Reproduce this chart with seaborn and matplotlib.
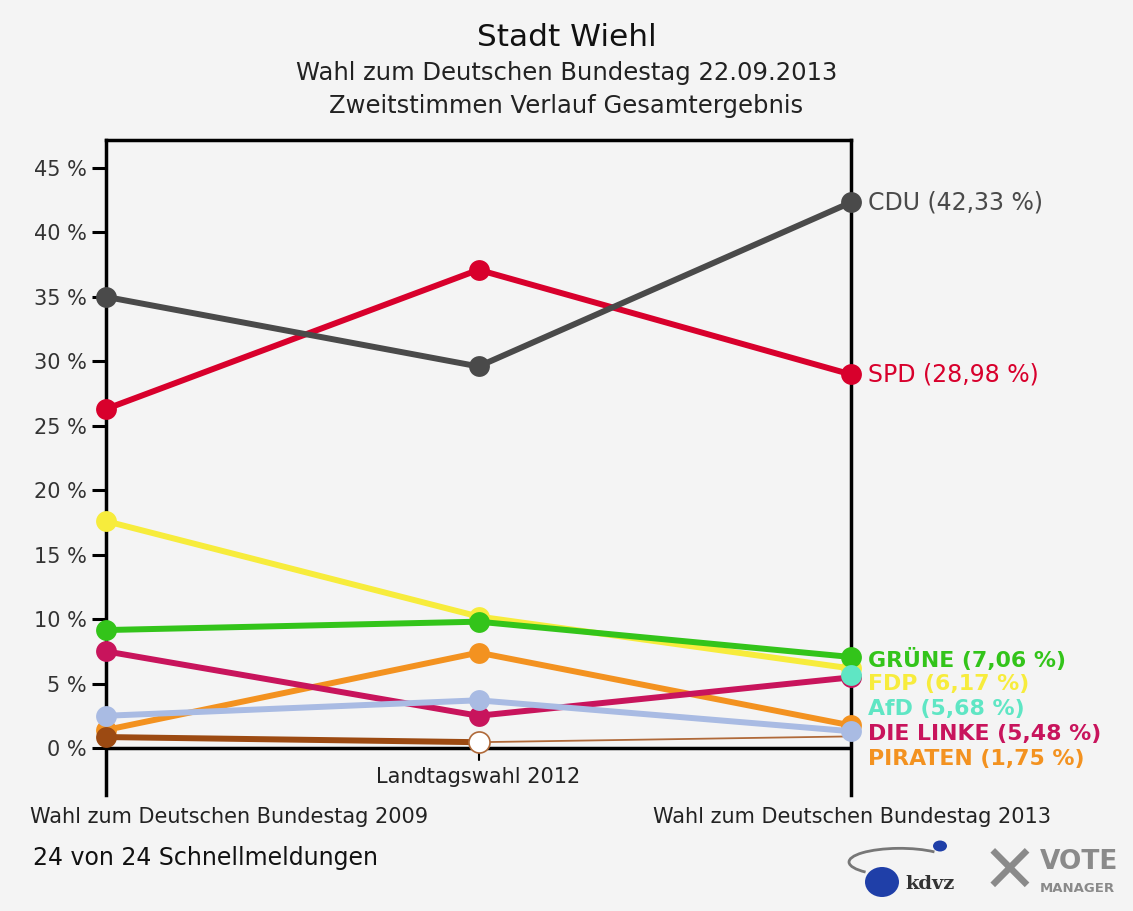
import numpy as np
import pandas as pd
import matplotlib.pyplot as plt
import seaborn as sns
from matplotlib.patches import Ellipse, Arc

# Zweitstimmen Stadt Wiehl (in %)
elections = ['Wahl zum Deutschen Bundestag 2009', 'Landtagswahl 2012', 'Wahl zum Deutschen Bundestag 2013']
parties = ['PIRATEN', 'NPD', 'DIE LINKE', 'Sonstige', 'FDP', 'GRÜNE', 'AfD', 'SPD', 'CDU']
cdu = [35.0, 29.6, 42.33]
spd = [26.3, 37.1, 28.98]
fdp = [17.6, 10.2, 6.17]
gruene = [9.15, 9.8, 7.06]
linke = [7.5, 2.5, 5.48]
piraten = [1.4, 7.4, 1.75]
afd = [np.nan, np.nan, 5.68]
sonstige = [2.5, 3.7, 1.3]
npd = [0.85, 0.45, np.nan]
other12 = [np.nan, 0.45, 0.9]

colors = {'CDU': '#4a4a4a', 'SPD': '#d8002c', 'FDP': '#f7ec3c', 'GRÜNE': '#33c41a',
          'DIE LINKE': '#c8145c', 'PIRATEN': '#f39220', 'AfD': '#5fe6c4',
          'Sonstige': '#a9bbe3', 'NPD': '#9c4a12'}
label_rows = [('CDU', 42.33, None), ('SPD', 28.98, None), ('GRÜNE', 7.06, 0),
              ('FDP', 6.17, 1), ('AfD', 5.68, 2), ('DIE LINKE', 5.48, 3), ('PIRATEN', 1.75, 4)]

values = {'CDU': cdu, 'SPD': spd, 'FDP': fdp, 'GRÜNE': gruene, 'DIE LINKE': linke,
          'PIRATEN': piraten, 'AfD': afd, 'Sonstige': sonstige, 'NPD': npd}
rows = []
for p in parties:
    for i, v in enumerate(values[p]):
        rows.append({'Partei': p, 'x': i, 'Prozent': v})
df = pd.DataFrame(rows).dropna()

sns.set_style('white')
plt.rcParams['font.family'] = ['DejaVu Sans']
bg = '#f4f4f4'
txt = '#222222'
fig = plt.figure(figsize=(11.33, 9.11), dpi=100, facecolor=bg)
ax = fig.add_axes([106 / 1133, 1 - 795 / 911, (851 - 106) / 1133, (795 - 140) / 911])
ax.set_facecolor(bg)

for z, p in enumerate(parties):
    sub = df[df['Partei'] == p]
    sns.lineplot(data=sub, x='x', y='Prozent', color=colors[p], linewidth=4.3,
                 marker='o', markersize=15, markeredgewidth=0, ax=ax, zorder=4 + z,
                 clip_on=False)

# thin line for the 2012/2013 small party
d2 = pd.DataFrame({'x': [1, 2], 'Prozent': other12[1:]})
sns.lineplot(data=d2, x='x', y='Prozent', color='#b06a3a', linewidth=1.3, ax=ax, zorder=2)
sns.scatterplot(x=[1], y=[other12[1]], s=230, color='white', edgecolor='#b06a3a',
                linewidth=1.2, ax=ax, zorder=20, clip_on=False)

ax.set_xlim(0, 2)
ax.set_ylim(-(795 - 748) / 12.89, (748 - 140) / 12.89)
ax.set_yticks(range(0, 50, 5))
ax.set_yticklabels([f'{t} %' for t in range(0, 50, 5)], fontsize=15, color='#333333')
ax.tick_params(axis='y', length=10, width=2.2, color='black', pad=4, left=True)
ax.set_xticks([])
ax.set_xlabel('')
ax.set_ylabel('')
for s in ['left', 'right', 'top']:
    ax.spines[s].set_color('black')
    ax.spines[s].set_linewidth(2.5)
ax.spines['bottom'].set_visible(False)
ax.axhline(0, color='black', lw=2.5, zorder=1)
ax.plot([1, 1], [0, -0.9], color='black', lw=1.5, clip_on=False, zorder=1)

# x labels
fig.text(30 / 1133, 1 - 817 / 911, elections[0], fontsize=15, color=txt, va='center')
fig.text(478 / 1133, 1 - 777 / 911, elections[1], fontsize=15, color=txt, va='center', ha='center')
fig.text(852 / 1133, 1 - 817 / 911, elections[2], fontsize=15, color=txt, va='center', ha='center')

# right side labels
for name, val, slot in label_rows:
    ypos = val if slot is None else 6.9 - slot * 1.93
    weight = 'normal' if slot is None else 'bold'
    ax.text(2.045, ypos, f'{name} ({val:.2f} %)'.replace('.', ','), color=colors[name],
            fontsize=17 if slot is None else 15.8, fontweight=weight,
            va='center', ha='left', clip_on=False)

# titles
fig.text(0.5, 1 - 37 / 911, 'Stadt Wiehl', ha='center', va='center', fontsize=22.5, color='#111111')
fig.text(0.5, 1 - 73 / 911, 'Wahl zum Deutschen Bundestag 22.09.2013', ha='center', va='center', fontsize=17.5, color=txt)
fig.text(0.5, 1 - 106 / 911, 'Zweitstimmen Verlauf Gesamtergebnis', ha='center', va='center', fontsize=17.5, color=txt)
fig.text(33 / 1133, 1 - 858 / 911, '24 von 24 Schnellmeldungen', va='center', fontsize=17, color='#111111')

# logos (approximation)
fig.patches.append(Ellipse((882 / 1133, 1 - 882 / 911), 34 / 1133, 30 / 911, transform=fig.transFigure,
                           facecolor='#1f3fa8', edgecolor='none'))
fig.patches.append(Ellipse((940 / 1133, 1 - 846 / 911), 14 / 1133, 11 / 911, transform=fig.transFigure,
                           facecolor='#1f3fa8', edgecolor='none'))
fig.patches.append(Arc((900 / 1133, 1 - 862 / 911), 0.09, 0.03, theta1=20, theta2=200,
                       transform=fig.transFigure, color='#777777', lw=2))
fig.text(905 / 1133, 1 - 884 / 911, 'kdvz', va='center', fontsize=14, fontweight='bold',
         color='#333333', family='DejaVu Serif')
fig.text(1010 / 1133, 1 - 873 / 911, '✕', ha='center', va='center', fontsize=48, color='#8a8a8a')
fig.text(1040 / 1133, 1 - 862 / 911, 'VOTE', va='center', fontsize=19, fontweight='bold', color='#8a8a8a')
fig.text(1040 / 1133, 1 - 888 / 911, 'MANAGER', va='center', fontsize=9.5, fontweight='bold', color='#8a8a8a')

fig.savefig('out.png', dpi=100, facecolor=bg)
